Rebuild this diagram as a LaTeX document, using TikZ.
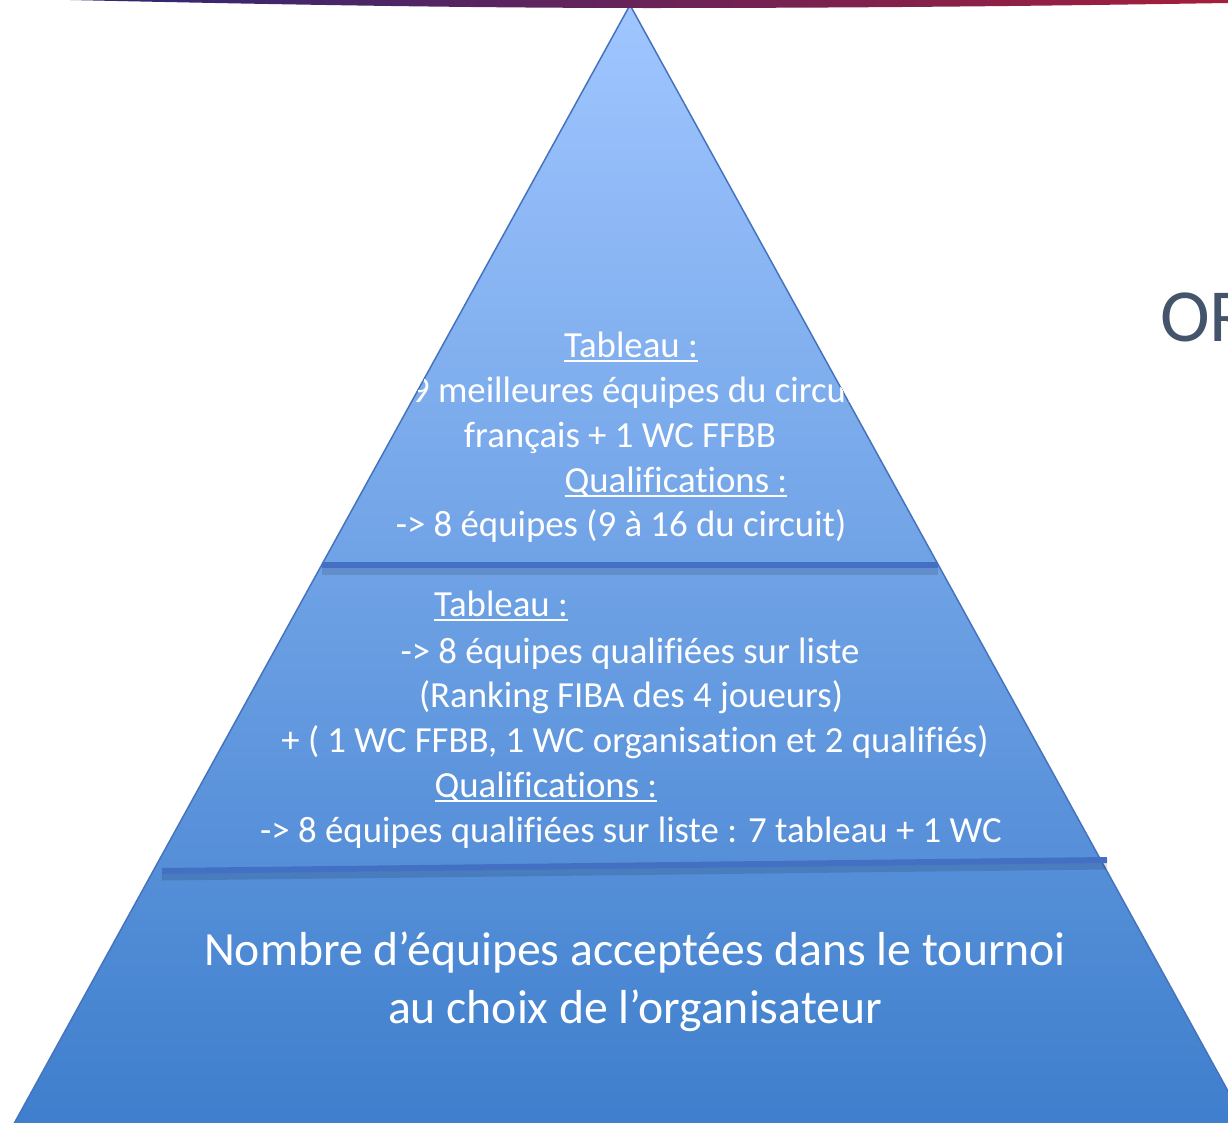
\documentclass[tikz,border=0pt]{standalone}
\usepackage{fontspec}
\setmainfont[Ligatures=NoCommon]{Carlito}
\usetikzlibrary{calc}
\definecolor{pyrtop}{RGB}{160,198,255}
\definecolor{pyrbot}{RGB}{62,126,204}
\definecolor{pyredge}{RGB}{70,115,190}
\definecolor{sepcol}{RGB}{68,112,196}
\definecolor{orcol}{RGB}{68,84,106}
\definecolor{bandL}{RGB}{45,40,115}
\definecolor{bandM}{RGB}{85,30,95}
\definecolor{bandR}{RGB}{165,30,60}
\newcommand\myul[1]{\setbox0\hbox{#1}\rlap{\rule[-5pt]{\wd0}{2pt}}\box0}
\begin{document}
\begin{tikzpicture}[x=1pt,y=-1pt,
  lbl/.style={text=white,font=\fontsize{36.8}{44}\selectfont,anchor=base,inner sep=0pt},
  biglbl/.style={lbl,font=\fontsize{47.7}{57}\selectfont},
  sepline/.style={draw=sepcol,line width=6pt},
  sepshadow/.style={draw=black,opacity=0.12,line width=9pt}]
\useasboundingbox (0,0) rectangle (1228,1122);
\coordinate (A) at (630,5);
\coordinate (L) at (10,1131);
\coordinate (R) at (1250,1131);
\shade[top color=pyrtop,bottom color=pyrbot] (A)--(R)--(L)--cycle;
\draw[pyredge,line width=1.5pt] (L)--(A)--(R);
% separators
\coordinate (s1a) at (322,565);
\coordinate (s1b) at (938,565);
\coordinate (s2a) at (162,871);
\coordinate (s2b) at (1107,860);
\draw[sepshadow] ($(s1a)+(0,5)$) -- ($(s1b)+(0,5)$);
\draw[sepline] (s1a) -- (s1b);
\draw[sepshadow] ($(s2a)+(0,5)$) -- ($(s2b)+(0,5)$);
\draw[sepline] (s2a) -- (s2b);
\begin{scope}
\clip (A)--(R)--(L)--cycle;
\node[lbl] (t1) at (631,357) {\myul{Tableau :}};
\node[lbl] (t2) at (620,402) {-> 9 meilleures équipes du circuit};
\node[lbl] (t3) at (620,447) {français + 1 WC FFBB};
\node[lbl] (t4) at (676,492) {\myul{Qualifications :}};
\node[lbl] (t5) at (621,536) {-> 8 équipes (9 à 16 du circuit)};
\node[lbl] (m1) at (501,616) {\myul{Tableau :}};
\node[lbl] (m2) at (630,663) {-> 8 équipes qualifiées sur liste};
\node[lbl] (m3) at (631,707) {(Ranking FIBA des 4 joueurs)};
\node[lbl] (m4) at (635,752) {+ ( 1 WC FFBB, 1 WC organisation et 2 qualifiés)};
\node[lbl] (m5) at (546,797) {\myul{Qualifications :}};
\node[lbl] (m6) at (631,842) {-> 8 équipes qualifiées sur liste : 7 tableau + 1 WC};
\node[biglbl] (b1) at (635,965) {Nombre d’équipes acceptées dans le tournoi};
\node[biglbl] (b2) at (635,1023) {au choix de l’organisateur};
\end{scope}
% top band
\shade[left color=bandL,middle color=bandM,right color=bandR]
  (70,0) .. controls (300,5) and (480,8) .. (650,8)
  .. controls (900,8) and (1100,5) .. (1228,3) -- (1228,0) -- cycle;
\node[anchor=base west,text=orcol,font=\fontsize{75}{80}\selectfont,inner sep=0pt] (ortxt) at (1160,341) {OR};
\end{tikzpicture}
\end{document}
